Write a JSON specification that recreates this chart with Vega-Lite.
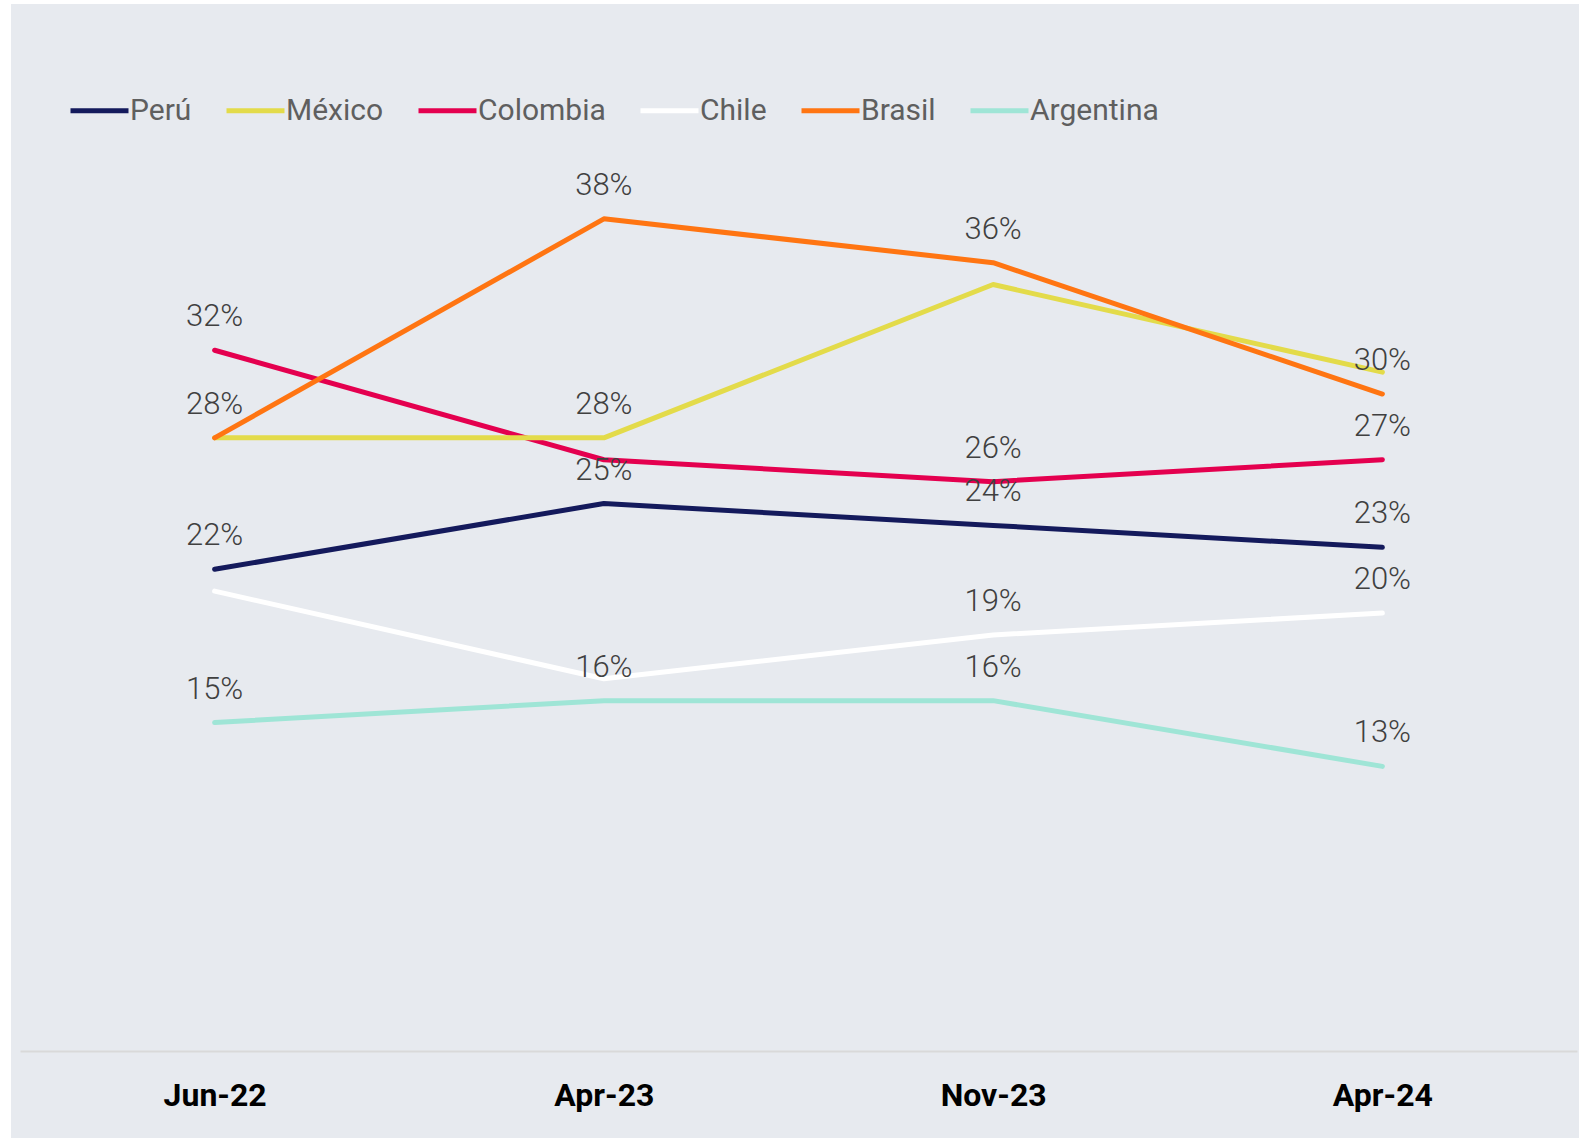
{
  "$schema": "https://vega.github.io/schema/vega-lite/v6.json",
  "width": 1568,
  "height": 1134,
  "autosize": "none",
  "padding": {"left": 11, "top": 4, "right": 14, "bottom": 1},
  "background": "#FFFFFF",
  "config": {
    "font": "Roboto",
    "view": {"fill": "#E7EAEF", "stroke": null}
  },
  "data": {
    "values": [
      {"pais": "Argentina", "fecha": "Jun-22", "valor": 0.15, "etiqueta": true},
      {"pais": "Argentina", "fecha": "Apr-23", "valor": 0.16, "etiqueta": true},
      {"pais": "Argentina", "fecha": "Nov-23", "valor": 0.16, "etiqueta": true},
      {"pais": "Argentina", "fecha": "Apr-24", "valor": 0.13, "etiqueta": true},
      {"pais": "Chile", "fecha": "Jun-22", "valor": 0.21, "etiqueta": false},
      {"pais": "Chile", "fecha": "Apr-23", "valor": 0.17, "etiqueta": false},
      {"pais": "Chile", "fecha": "Nov-23", "valor": 0.19, "etiqueta": true},
      {"pais": "Chile", "fecha": "Apr-24", "valor": 0.20, "etiqueta": true},
      {"pais": "Perú", "fecha": "Jun-22", "valor": 0.22, "etiqueta": true},
      {"pais": "Perú", "fecha": "Apr-23", "valor": 0.25, "etiqueta": true},
      {"pais": "Perú", "fecha": "Nov-23", "valor": 0.24, "etiqueta": true},
      {"pais": "Perú", "fecha": "Apr-24", "valor": 0.23, "etiqueta": true},
      {"pais": "Colombia", "fecha": "Jun-22", "valor": 0.32, "etiqueta": true},
      {"pais": "Colombia", "fecha": "Apr-23", "valor": 0.27, "etiqueta": false},
      {"pais": "Colombia", "fecha": "Nov-23", "valor": 0.26, "etiqueta": true},
      {"pais": "Colombia", "fecha": "Apr-24", "valor": 0.27, "etiqueta": true},
      {"pais": "México", "fecha": "Jun-22", "valor": 0.28, "etiqueta": false},
      {"pais": "México", "fecha": "Apr-23", "valor": 0.28, "etiqueta": true},
      {"pais": "México", "fecha": "Nov-23", "valor": 0.35, "etiqueta": false},
      {"pais": "México", "fecha": "Apr-24", "valor": 0.31, "etiqueta": false},
      {"pais": "Brasil", "fecha": "Jun-22", "valor": 0.28, "etiqueta": true},
      {"pais": "Brasil", "fecha": "Apr-23", "valor": 0.38, "etiqueta": true},
      {"pais": "Brasil", "fecha": "Nov-23", "valor": 0.36, "etiqueta": true},
      {"pais": "Brasil", "fecha": "Apr-24", "valor": 0.30, "etiqueta": true}
    ]
  },
  "encoding": {
    "x": {
      "field": "fecha",
      "type": "ordinal",
      "sort": ["Jun-22", "Apr-23", "Nov-23", "Apr-24"],
      "scale": {"type": "point", "padding": 0.5, "range": [9, 1566]},
      "axis": {
        "title": null,
        "orient": "bottom",
        "offset": -87,
        "domain": true,
        "domainColor": "#D9D9D9",
        "domainWidth": 2,
        "ticks": false,
        "tickSize": 0,
        "grid": false,
        "labelFont": "Roboto",
        "labelFontSize": 32,
        "labelFontWeight": "bold",
        "labelColor": "#000000",
        "labelAngle": 0,
        "labelBaseline": "alphabetic",
        "labelPadding": 54
      }
    },
    "y": {
      "field": "valor",
      "type": "quantitative",
      "scale": {"domain": [-0.0397, 0.4781], "nice": false, "zero": false},
      "axis": null
    }
  },
  "layer": [
    {
      "mark": {"type": "line", "strokeWidth": 5, "strokeCap": "round", "strokeJoin": "round"},
      "encoding": {
        "color": {
          "field": "pais",
          "type": "nominal",
          "scale": {
            "domain": ["Perú", "México", "Colombia", "Chile", "Brasil", "Argentina"],
            "range": ["#141A5C", "#E3DB4A", "#E4004F", "#FFFFFF", "#FF7512", "#9FE5D6"]
          },
          "legend": {
            "title": null,
            "orient": "none",
            "direction": "horizontal",
            "legendX": 57,
            "legendY": 75,
            "padding": 0,
            "symbolType": "stroke",
            "symbolSize": 3364,
            "symbolStrokeWidth": 5,
            "labelFont": "Roboto",
            "labelFontSize": 30,
            "labelColor": "#5F5F5F",
            "labelOffset": -1,
            "columnPadding": 24
          }
        },
        "detail": {"field": "pais"}
      }
    },
    {
      "transform": [{"filter": "datum.etiqueta"}],
      "mark": {
        "type": "text",
        "font": "Roboto",
        "fontSize": 31,
        "fontWeight": 300,
        "color": "#404040",
        "baseline": "alphabetic",
        "align": "center",
        "dy": -24
      },
      "encoding": {
        "text": {"field": "valor", "type": "quantitative", "format": ".0%"}
      }
    }
  ]
}
